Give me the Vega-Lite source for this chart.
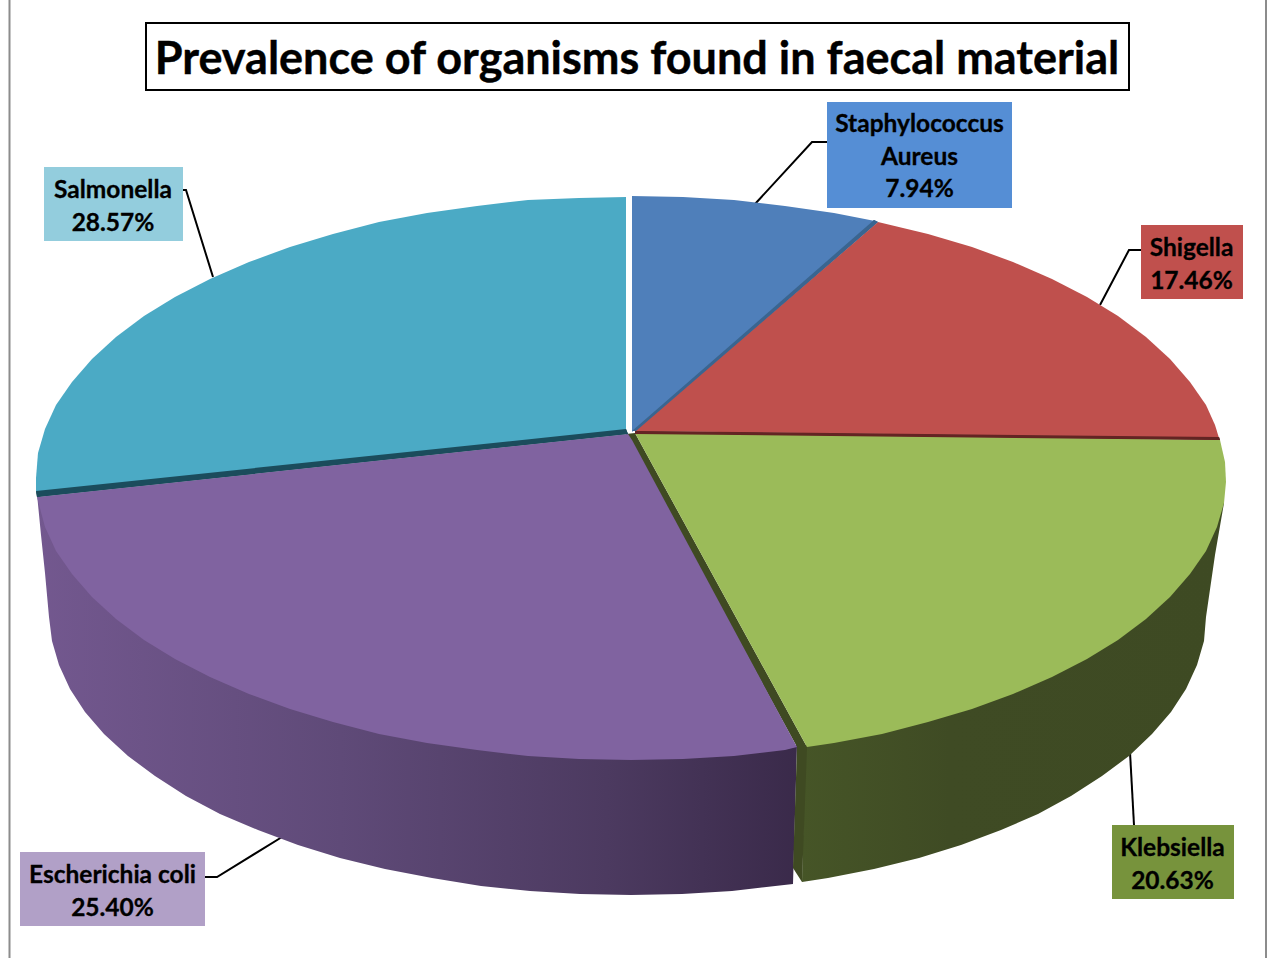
{
"$schema":"https://vega.github.io/schema/vega-lite/v6.json",
"width":1270,"height":958,"padding":0,"autosize":{"type":"fit","contains":"padding"},
"background":"white","view":{"stroke":null},
"datasets":{
"slices":[
{"organism":"Staphylococcus Aureus","part":"top","shape":"t1","i":0,"x":632,"y":432},{"organism":"Staphylococcus Aureus","part":"top","shape":"t1","i":1,"x":632,"y":196},{"organism":"Staphylococcus Aureus","part":"top","shape":"t1","i":2,"x":683,"y":197},{"organism":"Staphylococcus Aureus","part":"top","shape":"t1","i":3,"x":734,"y":200},{"organism":"Staphylococcus Aureus","part":"top","shape":"t1","i":4,"x":785,"y":206},{"organism":"Staphylococcus Aureus","part":"top","shape":"t1","i":5,"x":834,"y":213},{"organism":"Staphylococcus Aureus","part":"top","shape":"t1","i":6,"x":875,"y":221},
{"organism":"Shigella","part":"top","shape":"t2","i":0,"x":635,"y":431},{"organism":"Shigella","part":"top","shape":"t2","i":1,"x":878,"y":222},{"organism":"Shigella","part":"top","shape":"t2","i":2,"x":928,"y":234},{"organism":"Shigella","part":"top","shape":"t2","i":3,"x":972,"y":247},{"organism":"Shigella","part":"top","shape":"t2","i":4,"x":1013,"y":262},{"organism":"Shigella","part":"top","shape":"t2","i":5,"x":1052,"y":279},{"organism":"Shigella","part":"top","shape":"t2","i":6,"x":1087,"y":297},{"organism":"Shigella","part":"top","shape":"t2","i":7,"x":1118,"y":316},{"organism":"Shigella","part":"top","shape":"t2","i":8,"x":1146,"y":337},{"organism":"Shigella","part":"top","shape":"t2","i":9,"x":1170,"y":359},{"organism":"Shigella","part":"top","shape":"t2","i":10,"x":1190,"y":382},{"organism":"Shigella","part":"top","shape":"t2","i":11,"x":1206,"y":405},{"organism":"Shigella","part":"top","shape":"t2","i":12,"x":1215,"y":425},{"organism":"Shigella","part":"top","shape":"t2","i":13,"x":1219,"y":438},
{"organism":"Klebsiella","part":"top","shape":"t3","i":0,"x":635,"y":433},{"organism":"Klebsiella","part":"top","shape":"t3","i":1,"x":1220,"y":440},{"organism":"Klebsiella","part":"top","shape":"t3","i":2,"x":1225,"y":462},{"organism":"Klebsiella","part":"top","shape":"t3","i":3,"x":1226,"y":482},{"organism":"Klebsiella","part":"top","shape":"t3","i":4,"x":1224,"y":503},{"organism":"Klebsiella","part":"top","shape":"t3","i":5,"x":1217,"y":527},{"organism":"Klebsiella","part":"top","shape":"t3","i":6,"x":1206,"y":551},{"organism":"Klebsiella","part":"top","shape":"t3","i":7,"x":1190,"y":574},{"organism":"Klebsiella","part":"top","shape":"t3","i":8,"x":1170,"y":597},{"organism":"Klebsiella","part":"top","shape":"t3","i":9,"x":1146,"y":619},{"organism":"Klebsiella","part":"top","shape":"t3","i":10,"x":1118,"y":640},{"organism":"Klebsiella","part":"top","shape":"t3","i":11,"x":1087,"y":659},{"organism":"Klebsiella","part":"top","shape":"t3","i":12,"x":1052,"y":677},{"organism":"Klebsiella","part":"top","shape":"t3","i":13,"x":1013,"y":694},{"organism":"Klebsiella","part":"top","shape":"t3","i":14,"x":972,"y":709},{"organism":"Klebsiella","part":"top","shape":"t3","i":15,"x":928,"y":722},{"organism":"Klebsiella","part":"top","shape":"t3","i":16,"x":882,"y":734},{"organism":"Klebsiella","part":"top","shape":"t3","i":17,"x":834,"y":743},{"organism":"Klebsiella","part":"top","shape":"t3","i":18,"x":807,"y":747},
{"organism":"Escherichia coli","part":"top","shape":"t4","i":0,"x":628,"y":434},{"organism":"Escherichia coli","part":"top","shape":"t4","i":1,"x":632,"y":440},{"organism":"Escherichia coli","part":"top","shape":"t4","i":2,"x":797,"y":747},{"organism":"Escherichia coli","part":"top","shape":"t4","i":3,"x":785,"y":750},{"organism":"Escherichia coli","part":"top","shape":"t4","i":4,"x":734,"y":756},{"organism":"Escherichia coli","part":"top","shape":"t4","i":5,"x":683,"y":759},{"organism":"Escherichia coli","part":"top","shape":"t4","i":6,"x":631,"y":760},{"organism":"Escherichia coli","part":"top","shape":"t4","i":7,"x":579,"y":759},{"organism":"Escherichia coli","part":"top","shape":"t4","i":8,"x":528,"y":756},{"organism":"Escherichia coli","part":"top","shape":"t4","i":9,"x":477,"y":750},{"organism":"Escherichia coli","part":"top","shape":"t4","i":10,"x":427,"y":743},{"organism":"Escherichia coli","part":"top","shape":"t4","i":11,"x":379,"y":734},{"organism":"Escherichia coli","part":"top","shape":"t4","i":12,"x":333,"y":722},{"organism":"Escherichia coli","part":"top","shape":"t4","i":13,"x":290,"y":709},{"organism":"Escherichia coli","part":"top","shape":"t4","i":14,"x":249,"y":694},{"organism":"Escherichia coli","part":"top","shape":"t4","i":15,"x":210,"y":677},{"organism":"Escherichia coli","part":"top","shape":"t4","i":16,"x":175,"y":659},{"organism":"Escherichia coli","part":"top","shape":"t4","i":17,"x":144,"y":640},{"organism":"Escherichia coli","part":"top","shape":"t4","i":18,"x":116,"y":619},{"organism":"Escherichia coli","part":"top","shape":"t4","i":19,"x":92,"y":597},{"organism":"Escherichia coli","part":"top","shape":"t4","i":20,"x":72,"y":574},{"organism":"Escherichia coli","part":"top","shape":"t4","i":21,"x":56,"y":551},{"organism":"Escherichia coli","part":"top","shape":"t4","i":22,"x":45,"y":527},{"organism":"Escherichia coli","part":"top","shape":"t4","i":23,"x":37,"y":497},
{"organism":"Salmonella","part":"top","shape":"t5","i":0,"x":626,"y":430},{"organism":"Salmonella","part":"top","shape":"t5","i":1,"x":36,"y":492},{"organism":"Salmonella","part":"top","shape":"t5","i":2,"x":36,"y":478},{"organism":"Salmonella","part":"top","shape":"t5","i":3,"x":38,"y":453},{"organism":"Salmonella","part":"top","shape":"t5","i":4,"x":45,"y":429},{"organism":"Salmonella","part":"top","shape":"t5","i":5,"x":56,"y":405},{"organism":"Salmonella","part":"top","shape":"t5","i":6,"x":72,"y":382},{"organism":"Salmonella","part":"top","shape":"t5","i":7,"x":92,"y":359},{"organism":"Salmonella","part":"top","shape":"t5","i":8,"x":116,"y":337},{"organism":"Salmonella","part":"top","shape":"t5","i":9,"x":144,"y":316},{"organism":"Salmonella","part":"top","shape":"t5","i":10,"x":175,"y":297},{"organism":"Salmonella","part":"top","shape":"t5","i":11,"x":210,"y":279},{"organism":"Salmonella","part":"top","shape":"t5","i":12,"x":249,"y":262},{"organism":"Salmonella","part":"top","shape":"t5","i":13,"x":290,"y":247},{"organism":"Salmonella","part":"top","shape":"t5","i":14,"x":333,"y":234},{"organism":"Salmonella","part":"top","shape":"t5","i":15,"x":379,"y":222},{"organism":"Salmonella","part":"top","shape":"t5","i":16,"x":427,"y":213},{"organism":"Salmonella","part":"top","shape":"t5","i":17,"x":477,"y":206},{"organism":"Salmonella","part":"top","shape":"t5","i":18,"x":528,"y":200},{"organism":"Salmonella","part":"top","shape":"t5","i":19,"x":579,"y":198},{"organism":"Salmonella","part":"top","shape":"t5","i":20,"x":626,"y":197},
{"organism":"Staphylococcus Aureus","part":"edge","shape":"e1","i":0,"x":874,"y":220},{"organism":"Staphylococcus Aureus","part":"edge","shape":"e1","i":1,"x":878,"y":222},{"organism":"Staphylococcus Aureus","part":"edge","shape":"e1","i":2,"x":636,"y":431},{"organism":"Staphylococcus Aureus","part":"edge","shape":"e1","i":3,"x":632,"y":431},
{"organism":"Shigella","part":"edge","shape":"e2","i":0,"x":635,"y":431},{"organism":"Shigella","part":"edge","shape":"e2","i":1,"x":1219,"y":437},{"organism":"Shigella","part":"edge","shape":"e2","i":2,"x":1220,"y":440},{"organism":"Shigella","part":"edge","shape":"e2","i":3,"x":635,"y":434},
{"organism":"Klebsiella","part":"edge","shape":"e3","i":0,"x":626,"y":434},{"organism":"Klebsiella","part":"edge","shape":"e3","i":1,"x":635,"y":433},{"organism":"Klebsiella","part":"edge","shape":"e3","i":2,"x":807,"y":747},{"organism":"Klebsiella","part":"edge","shape":"e3","i":3,"x":797,"y":747},
{"organism":"Klebsiella","part":"edge","shape":"e4","i":0,"x":797,"y":747},{"organism":"Klebsiella","part":"edge","shape":"e4","i":1,"x":807,"y":747},{"organism":"Klebsiella","part":"edge","shape":"e4","i":2,"x":802,"y":882},{"organism":"Klebsiella","part":"edge","shape":"e4","i":3,"x":793,"y":868},
{"organism":"Salmonella","part":"edge","shape":"e5","i":0,"x":626,"y":429},{"organism":"Salmonella","part":"edge","shape":"e5","i":1,"x":36,"y":491},{"organism":"Salmonella","part":"edge","shape":"e5","i":2,"x":37,"y":497},{"organism":"Salmonella","part":"edge","shape":"e5","i":3,"x":628,"y":434}
],
"walls":[
{"organism":"Klebsiella","i":0,"x":805,"y":745},{"organism":"Klebsiella","i":1,"x":1000,"y":695},{"organism":"Klebsiella","i":2,"x":1150,"y":610},{"organism":"Klebsiella","i":3,"x":1224,"y":490},{"organism":"Klebsiella","i":4,"x":1224,"y":503},{"organism":"Klebsiella","i":5,"x":1215,"y":555},{"organism":"Klebsiella","i":6,"x":1206,"y":617},{"organism":"Klebsiella","i":7,"x":1204,"y":641},{"organism":"Klebsiella","i":8,"x":1197,"y":665},{"organism":"Klebsiella","i":9,"x":1186,"y":689},{"organism":"Klebsiella","i":10,"x":1171,"y":712},{"organism":"Klebsiella","i":11,"x":1152,"y":734},{"organism":"Klebsiella","i":12,"x":1129,"y":756},{"organism":"Klebsiella","i":13,"x":1102,"y":776},{"organism":"Klebsiella","i":14,"x":1071,"y":796},{"organism":"Klebsiella","i":15,"x":1038,"y":814},{"organism":"Klebsiella","i":16,"x":1001,"y":830},{"organism":"Klebsiella","i":17,"x":961,"y":845},{"organism":"Klebsiella","i":18,"x":919,"y":858},{"organism":"Klebsiella","i":19,"x":874,"y":869},{"organism":"Klebsiella","i":20,"x":828,"y":878},{"organism":"Klebsiella","i":21,"x":802,"y":882},
{"organism":"Escherichia coli","i":0,"x":37,"y":494},{"organism":"Escherichia coli","i":1,"x":300,"y":700},{"organism":"Escherichia coli","i":2,"x":631,"y":745},{"organism":"Escherichia coli","i":3,"x":797,"y":745},{"organism":"Escherichia coli","i":4,"x":793,"y":884},{"organism":"Escherichia coli","i":5,"x":732,"y":891},{"organism":"Escherichia coli","i":6,"x":682,"y":894},{"organism":"Escherichia coli","i":7,"x":631,"y":895},{"organism":"Escherichia coli","i":8,"x":580,"y":894},{"organism":"Escherichia coli","i":9,"x":530,"y":891},{"organism":"Escherichia coli","i":10,"x":481,"y":886},{"organism":"Escherichia coli","i":11,"x":432,"y":878},{"organism":"Escherichia coli","i":12,"x":385,"y":869},{"organism":"Escherichia coli","i":13,"x":340,"y":858},{"organism":"Escherichia coli","i":14,"x":298,"y":845},{"organism":"Escherichia coli","i":15,"x":258,"y":830},{"organism":"Escherichia coli","i":16,"x":220,"y":814},{"organism":"Escherichia coli","i":17,"x":186,"y":796},{"organism":"Escherichia coli","i":18,"x":155,"y":776},{"organism":"Escherichia coli","i":19,"x":128,"y":756},{"organism":"Escherichia coli","i":20,"x":104,"y":734},{"organism":"Escherichia coli","i":21,"x":85,"y":712},{"organism":"Escherichia coli","i":22,"x":70,"y":689},{"organism":"Escherichia coli","i":23,"x":59,"y":665},{"organism":"Escherichia coli","i":24,"x":52,"y":641},{"organism":"Escherichia coli","i":25,"x":49,"y":617},{"organism":"Escherichia coli","i":26,"x":45,"y":573},{"organism":"Escherichia coli","i":27,"x":41,"y":535}
],
"leaders":[
{"organism":"Staphylococcus Aureus","i":0,"x":755,"y":204},{"organism":"Staphylococcus Aureus","i":1,"x":812,"y":142},{"organism":"Staphylococcus Aureus","i":2,"x":827,"y":142},
{"organism":"Shigella","i":0,"x":1100,"y":305},{"organism":"Shigella","i":1,"x":1129,"y":250},{"organism":"Shigella","i":2,"x":1141,"y":250},
{"organism":"Klebsiella","i":0,"x":1130,"y":752},{"organism":"Klebsiella","i":1,"x":1134,"y":825},
{"organism":"Escherichia coli","i":0,"x":282,"y":837},{"organism":"Escherichia coli","i":1,"x":217,"y":877},{"organism":"Escherichia coli","i":2,"x":205,"y":877},
{"organism":"Salmonella","i":0,"x":213,"y":277},{"organism":"Salmonella","i":1,"x":186,"y":190},{"organism":"Salmonella","i":2,"x":183,"y":190}
],
"labels":[
{"organism":"Staphylococcus Aureus","share":7.94,"text":"Staphylococcus|Aureus|7.94%","x":827,"x2":1012,"y":102,"y2":208,"tx":919.5,"ty":125},
{"organism":"Shigella","share":17.46,"text":"Shigella|17.46%","x":1141,"x2":1243,"y":225,"y2":299,"tx":1191.5,"ty":249},
{"organism":"Klebsiella","share":20.63,"text":"Klebsiella|20.63%","x":1112,"x2":1234,"y":825,"y2":899,"tx":1172.5,"ty":849},
{"organism":"Escherichia coli","share":25.40,"text":"Escherichia coli|25.40%","x":20,"x2":205,"y":852,"y2":926,"tx":112.5,"ty":876},
{"organism":"Salmonella","share":28.57,"text":"Salmonella|28.57%","x":44,"x2":183,"y":167,"y2":241,"tx":113,"ty":191}
]
},
"encoding":{
"x":{"field":"x","type":"quantitative","axis":null,"scale":{"domain":[0,1270],"nice":false,"zero":false}},
"y":{"field":"y","type":"quantitative","axis":null,"scale":{"domain":[0,958],"nice":false,"zero":false,"reverse":true}}
},
"layer":[
{"data":{"values":[{"x":9.5,"x2":1266,"y":-5,"y2":965}]},"mark":{"type":"rect","fill":null,"stroke":"#8c8c8c","strokeWidth":2,"clip":true},"encoding":{"x2":{"field":"x2"},"y2":{"field":"y2"}}},
{"data":{"name":"leaders"},"mark":{"type":"line","stroke":"#000000","strokeWidth":2},"encoding":{"detail":{"field":"organism"},"order":{"field":"i","type":"quantitative"}}},
{"data":{"name":"walls"},"transform":[{"filter":"datum.organism=='Klebsiella'"}],"mark":{"type":"line","strokeWidth":0,"fill":{"gradient":"linear","x1":0,"x2":1,"y1":0,"y2":0,"stops":[{"offset":0,"color":"#465527"},{"offset":0.35,"color":"#3f4b24"},{"offset":1,"color":"#3e4a23"}]}},"encoding":{"order":{"field":"i","type":"quantitative"}}},
{"data":{"name":"walls"},"transform":[{"filter":"datum.organism=='Escherichia coli'"}],"mark":{"type":"line","strokeWidth":0,"fill":{"gradient":"linear","x1":0,"x2":1,"y1":0,"y2":0,"stops":[{"offset":0,"color":"#73588f"},{"offset":0.4,"color":"#5f4a78"},{"offset":0.75,"color":"#4c3a60"},{"offset":1,"color":"#3a2a4a"}]}},"encoding":{"order":{"field":"i","type":"quantitative"}}},
{"data":{"name":"slices"},"transform":[{"filter":"datum.part=='edge'"}],"mark":{"type":"line","strokeWidth":0},"encoding":{"detail":{"field":"shape"},"order":{"field":"i","type":"quantitative"},"fill":{"field":"organism","type":"nominal","legend":null,"scale":{"domain":["Staphylococcus Aureus","Shigella","Klebsiella","Salmonella"],"range":["#3a6590","#632423","#3f4a22","#1b4c5c"]}}}},
{"data":{"name":"slices"},"transform":[{"filter":"datum.part=='top'"}],"mark":{"type":"line","strokeWidth":0},"encoding":{"detail":{"field":"shape"},"order":{"field":"i","type":"quantitative"},"fill":{"field":"organism","type":"nominal","legend":null,"scale":{"domain":["Staphylococcus Aureus","Shigella","Klebsiella","Escherichia coli","Salmonella"],"range":["#4f7fba","#bf504d","#9bbb59","#8063a0","#4baac5"]}}}},
{"data":{"name":"slices"},"transform":[{"filter":"datum.part=='edge' && datum.shape!='e3' && datum.shape!='e4'"}],"mark":{"type":"line","strokeWidth":0},"encoding":{"detail":{"field":"shape"},"order":{"field":"i","type":"quantitative"},"fill":{"field":"organism","type":"nominal","legend":null,"scale":{"domain":["Staphylococcus Aureus","Shigella","Salmonella"],"range":["#3a6590","#632423","#1b4c5c"]}}}},
{"data":{"name":"labels"},"mark":{"type":"rect"},"encoding":{"x2":{"field":"x2"},"y2":{"field":"y2"},"fill":{"field":"organism","type":"nominal","legend":null,"scale":{"domain":["Staphylococcus Aureus","Shigella","Klebsiella","Escherichia coli","Salmonella"],"range":["#558ed5","#c0504d","#77933c","#b1a0c7","#93cddd"]}}}},
{"data":{"name":"labels"},"mark":{"type":"text","font":"Lato","fontWeight":"bold","fontSize":24.5,"lineBreak":"|","lineHeight":32.5,"align":"center","baseline":"middle","color":"#000000","stroke":"#000000","strokeWidth":0.3},"encoding":{"x":{"field":"tx","type":"quantitative"},"y":{"field":"ty","type":"quantitative"},"text":{"field":"text"}}},
{"data":{"values":[{"x":146,"x2":1129,"y":23,"y2":90}]},"mark":{"type":"rect","fill":"#ffffff","stroke":"#000000","strokeWidth":2},"encoding":{"x2":{"field":"x2"},"y2":{"field":"y2"}}},
{"data":{"values":[{"x":637,"y":60,"title":"Prevalence of organisms found in faecal material"}]},"mark":{"type":"text","font":"Lato","fontWeight":"bold","fontSize":45,"align":"center","baseline":"middle","color":"#000000","stroke":"#000000","strokeWidth":0.4},"encoding":{"text":{"field":"title"}}}
],
"resolve":{"scale":{"fill":"independent"}}
}
